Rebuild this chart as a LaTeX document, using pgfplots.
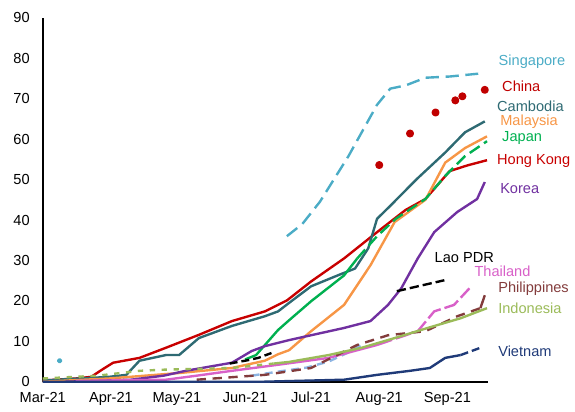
\documentclass[border=0pt]{standalone}
\usepackage{pgfplots}
\pgfplotsset{compat=1.18}
\usepackage{fontspec}
\setmainfont{Liberation Sans}

\definecolor{sgblue}{HTML}{4BACC6}
\definecolor{cnred}{HTML}{C00000}
\definecolor{khteal}{HTML}{2E6A73}
\definecolor{myorange}{HTML}{F79646}
\definecolor{jpgreen}{HTML}{00B050}
\definecolor{hkred}{HTML}{C80000}
\definecolor{krpurple}{HTML}{7030A0}
\definecolor{thpink}{HTML}{D860C8}
\definecolor{phbrown}{HTML}{833C3C}
\definecolor{idgreen}{HTML}{9BBB59}
\definecolor{vnnavy}{HTML}{1F3A78}
\definecolor{ltblue}{HTML}{8DB4E2}

\begin{document}
\begin{tikzpicture}
\fontsize{11}{13}\selectfont
\begin{axis}[
  scale only axis,
  width=336pt, height=274.5pt,
  xmin=0, xmax=202.5,
  ymin=0, ymax=90,
  axis lines*=left,
  axis line style={line width=1.3pt},
  major tick length=0pt,
  xtick={0,31,61,92,122,153,184},
  xticklabels={Mar-21,Apr-21,May-21,Jun-21,Jul-21,Aug-21,Sep-21},
  ytick={0,10,...,90},
  tick label style={font=\fontsize{11}{13}\selectfont},
  yticklabel style={xshift=-6pt},
  xticklabel style={yshift=-4pt},
  /pgf/number format/assume math mode=true,
  clip=false,
  every axis plot/.append style={line width=1.8pt, line join=round},
]
% Hong Kong
\addplot[hkred, no markers] coordinates {
(0,0.3) (15,0.8) (22,1.2) (27,3.0) (32,4.7) (44,5.9) (56,8.4) (71,11.6) (86,15) (101,17.4) (111,20.1) (122,24.8) (137,30.5) (152,37) (165,42.5) (174,45.2) (185,52.1) (193,53.5) (202,54.8)};
% Cambodia
\addplot[khteal, no markers] coordinates {
(0,0.3) (30,1.2) (38,1.7) (44,5.2) (56,6.6) (62,6.6) (71,10.8) (86,13.8) (101,16.2) (107,17.4) (112,19.5) (122,23.6) (135,26.5) (142,28) (148,33) (152,40.3) (158,43.5) (170,50.1) (183,56.7) (192,61.7) (201,64.4)};
% Malaysia
\addplot[myorange, no markers] coordinates {
(0,0) (30,0.8) (63,2.2) (86,3.4) (101,5.2) (107,6.8) (112,7.8) (122,12.5) (137,19) (149,28.8) (160,39.5) (174,45) (183,54.2) (192,57.8) (202,60.7)};
% Japan
\addplot[jpgreen, no markers] coordinates {
(92,5.5) (97,6.6) (107,12.8) (112,15.2) (122,19.9) (137,26.3) (143,30.5)};
\addplot[jpgreen, no markers, dash pattern=on 9pt off 4pt] coordinates {
(143,30.5) (152,36) (160.5,40.3) (174,45.2) (183,50.9) (192,55.8) (202,59.5)};
% Korea
\addplot[krpurple, no markers] coordinates {
(10,0) (40,0.5) (55,1.5) (65,2.7) (86,4.7) (95,7.6) (101,8.8) (112,10.3) (122,11.5) (137,13.3) (149,15) (157,19) (163,23.1) (170.5,30.5) (178,37) (188.5,42) (197.5,45.2) (201,49.4)};
% Lao PDR
\addplot[black, no markers, dash pattern=on 6pt off 3pt] coordinates {
(85,4.5) (93,5.3) (98,5.9) (104,7.1)};
\addplot[black, no markers, dash pattern=on 7pt off 3pt] coordinates {
(161,22.4) (170.5,23.6) (182.6,25.1)};
% unlabelled light blue
\addplot[ltblue, no markers, dash pattern=on 6pt off 4pt] coordinates {
(95,1.5) (107,2.5) (120,3.5) (130,5) (140,7.5) (146,9.5)};
% Thailand
\addplot[thpink, no markers] coordinates {
(15,0.2) (56,0.5) (70,1.5) (86,2.7) (107,4.2) (130,5.9) (152,9.1)};
\addplot[thpink, no markers, dash pattern=on 12pt off 3pt] coordinates {
(152,9.1) (170.5,12.5) (178,17.4) (187,19) (194,23.1)};
% Philippines
\addplot[phbrown, no markers, dash pattern=on 7pt off 5pt] coordinates {
(70,0.5) (101,1.7) (122,3.4) (143,9.1) (157,11.5) (174,12.5) (188.5,16.2) (199,18.2)};
\addplot[phbrown, no markers] coordinates {(199,18.2) (201,21.4)};
% Indonesia
\addplot[idgreen, no markers, dash pattern=on 4pt off 5pt] coordinates {
(0,0.8) (25,1.5) (44,2.7) (56,3) (86,3.4) (105,4.5)};
\addplot[idgreen, no markers] coordinates {
(105,4.5) (112,4.9) (130,6.6) (145,8.4) (160,10.8) (175,13.3) (190,15.7) (202,18.2)};
% Vietnam
\addplot[vnnavy, no markers] coordinates {
(0,0) (100,0) (137,0.5) (152,1.7) (167,2.7) (176,3.4) (183,5.9) (190,6.6)};
\addplot[vnnavy, no markers, dash pattern=on 6pt off 3pt] coordinates {
(190,6.6) (199,8.4)};
% Singapore
\addplot[sgblue, only marks, mark=*, mark size=1.2pt] coordinates {(7.7,5.2)};
\addplot[sgblue, no markers, dash pattern=on 10pt off 5pt] coordinates {
(111,36) (118,39) (126,44.5) (139,55.8) (152,68.5) (158,72.5) (165,73.3) (174,75.2) (185,75.5) (198,76.2)};
% China
\addplot[cnred, only marks, mark=*, mark size=2.1pt] coordinates {
(153,53.6) (167,61.4) (178.6,66.6) (187.6,69.6) (190.8,70.6) (201,72.2)};

\node[anchor=west, text=sgblue] at (axis cs:205,79.1) {Singapore};
\node[anchor=west, text=cnred] at (axis cs:206.6,73.2) {China};
\node[anchor=west, text=khteal] at (axis cs:204.3,68.1) {Cambodia};
\node[anchor=west, text=myorange] at (axis cs:205.7,64.4) {Malaysia};
\node[anchor=west, text=jpgreen] at (axis cs:206.6,60.4) {Japan};
\node[anchor=west, text=hkred] at (axis cs:204.3,54.5) {Hong Kong};
\node[anchor=west, text=krpurple] at (axis cs:205.7,47.7) {Korea};
\node[anchor=west, text=black] at (axis cs:175.9,30.7) {Lao PDR};
\node[anchor=west, text=thpink] at (axis cs:194,27.3) {Thailand};
\node[anchor=west, text=phbrown] at (axis cs:204.8,23.1) {Philippines};
\node[anchor=west, text=idgreen] at (axis cs:204.8,18.2) {Indonesia};
\node[anchor=west, text=vnnavy] at (axis cs:204.8,7.6) {Vietnam};
\end{axis}
\path[use as bounding box] (-32.25pt,-22.5pt) rectangle (399pt,288pt);
\end{tikzpicture}
\end{document}
